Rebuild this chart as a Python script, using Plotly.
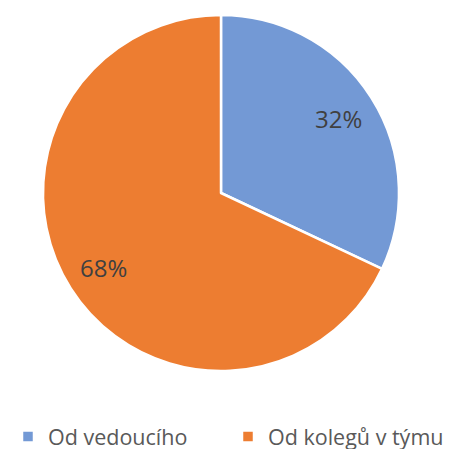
import math
import plotly.graph_objects as go

labels = ["Od vedoucího", "Od kolegů v týmu"]
values = [32, 68]
colors = ["#7399D5", "#ED7D31"]

W, H = 454, 449
# pie placement (pixels)
cx, cy, r = 221, 193, 178
dx, dy = -8, 8  # offset of plotly's plot area vs the page


def to_paper(px, py):
    return (px + dx) / W, (H - py + dy) / H


fig = go.Figure()

fig.add_trace(go.Pie(
    labels=labels,
    values=values,
    sort=False,
    direction="clockwise",
    rotation=0,
    marker=dict(colors=colors, line=dict(color="white", width=2.5)),
    textinfo="none",
    domain=dict(x=[(cx - r + dx) / W, (cx + r + dx) / W],
                y=[(H - cy - r + dy) / H, (H - cy + r + dy) / H]),
    hoverinfo="label+percent",
))

# percentage labels, placed at the slice mid angle like Excel does
total = sum(values)
acc = 0
for v in values:
    mid = (acc + v / 2) / total * 2 * math.pi
    acc += v
    ax, ay = to_paper(cx + 0.78 * r * math.sin(mid), cy - 0.78 * r * math.cos(mid))
    fig.add_annotation(
        x=ax, y=ay, xref="paper", yref="paper",
        xanchor="center", yanchor="middle",
        text=f"{round(v / total * 100)}%", showarrow=False,
        font=dict(family="Open Sans", size=24, color="#404040"),
    )

fig.update_layout(
    width=W,
    height=H,
    margin=dict(l=0, r=0, t=0, b=0),
    paper_bgcolor="white",
    showlegend=True,
    legend=dict(
        orientation="h",
        x=0.0, xanchor="left",
        y=0.0, yanchor="bottom",
        entrywidth=175,
        font=dict(family="Open Sans", size=21.5, color="#595959"),
        traceorder="normal",
    ),
    font=dict(family="Open Sans"),
)

fig.write_html("out.html")
